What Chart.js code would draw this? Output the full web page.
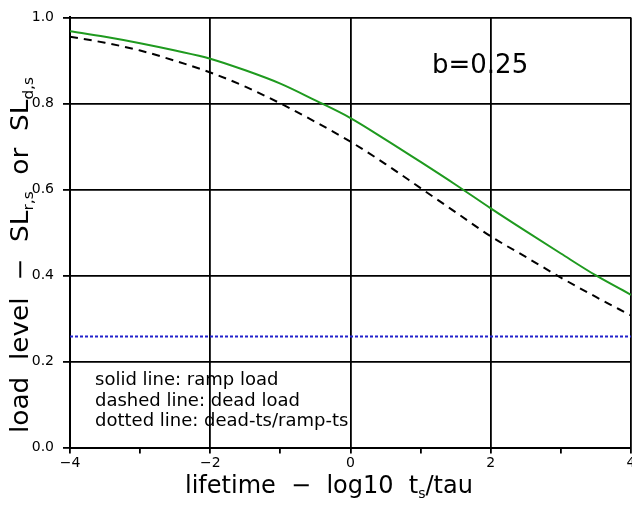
<!DOCTYPE html>
<html>
<head>
<meta charset="utf-8">
<script src="https://cdn.jsdelivr.net/npm/chart.js@4.4.0/dist/chart.umd.min.js"></script>
<style>
  html, body { margin: 0; padding: 0; background: #fff; }
  #wrap { width: 632px; height: 506px; }
</style>
</head>
<body>
<div id="wrap"><canvas id="chart" width="632" height="506"></canvas></div>
<script>
// --- data ---
const lifetime = [-4, -3.5, -3, -2.5, -2, -1.5, -1, -0.5, 0, 0.5, 1, 1.5, 2, 2.5, 3, 3.5, 4];
const rampLoad = [0.968, 0.955, 0.940, 0.923, 0.904, 0.877, 0.846, 0.807, 0.766, 0.716, 0.664, 0.611, 0.556, 0.503, 0.451, 0.400, 0.355];
const deadLoad = [0.955, 0.941, 0.923, 0.899, 0.872, 0.839, 0.800, 0.757, 0.711, 0.659, 0.603, 0.547, 0.491, 0.443, 0.395, 0.350, 0.307];
const ratioX     = [-4, 4];
const ratioLevel = [0.258, 0.258];
const bLabel     = 'b=0.25';
const notes      = ['solid line: ramp load', 'dashed line: dead load', 'dotted line: dead-ts/ramp-ts'];

const FONT = "'DejaVu Sans', sans-serif";

function pts(xs, ys) { return xs.map((x, i) => ({ x: x, y: ys[i] })); }

// width of a rich text run
function richWidth(ctx, parts, size) {
  let w = 0;
  parts.forEach(p => {
    ctx.font = (p.sub ? Math.round(size * 0.58) : size) + 'px ' + FONT;
    w += ctx.measureText(p.t).width;
  });
  return w;
}

// draws text with subscripts, starting at (x,y) baseline in current frame
function drawRich(ctx, parts, x, y, size) {
  let cx = x;
  parts.forEach(p => {
    const fs = p.sub ? Math.round(size * 0.58) : size;
    ctx.font = fs + 'px ' + FONT;
    ctx.fillText(p.t, cx, p.sub ? y + size * 0.22 : y);
    cx += ctx.measureText(p.t).width;
  });
}

const textPlugin = {
  id: 'textPlugin',
  afterDraw(chart) {
    const ctx = chart.ctx;
    ctx.save();
    ctx.fillStyle = '#000';
    ctx.textAlign = 'left';
    ctx.textBaseline = 'alphabetic';

    // x title
    drawRich(ctx, [{ t: 'lifetime  \u2212  log10  t' }, { t: 's', sub: true }, { t: '/tau' }], 185, 493, 24);

    // y title (rotated), stretched to the length it has in the original
    const yParts = [{ t: 'load  level  \u2212  SL' }, { t: 'r,s', sub: true }, { t: '  or  SL' }, { t: 'd,s', sub: true }];
    const yw = richWidth(ctx, yParts, 24);
    ctx.save();
    ctx.translate(28, 433);
    ctx.rotate(-Math.PI / 2);
    ctx.scale(356 / yw, 1);
    drawRich(ctx, yParts, 0, 0, 24);
    ctx.restore();

    // b label
    ctx.font = '26px ' + FONT;
    ctx.fillText(bLabel, 432, 73);

    // notes
    ctx.font = '18px ' + FONT;
    notes.forEach((s, i) => ctx.fillText(s, 95, 385 + i * 20.5));
    ctx.restore();
  }
};

new Chart(document.getElementById('chart'), {
  type: 'line',
  data: {
    datasets: [
      {
        label: 'ramp load',
        data: pts(lifetime, rampLoad),
        borderColor: '#1f9a1f',
        borderWidth: 2,
        pointRadius: 0,
        cubicInterpolationMode: 'monotone'
      },
      {
        label: 'dead load',
        data: pts(lifetime, deadLoad),
        borderColor: '#000',
        borderWidth: 2,
        borderDash: [8, 6],
        pointRadius: 0,
        cubicInterpolationMode: 'monotone'
      },
      {
        label: 'dead-ts/ramp-ts',
        data: pts(ratioX, ratioLevel),
        borderColor: '#2222cc',
        borderWidth: 2,
        borderDash: [3, 2],
        pointRadius: 0
      }
    ]
  },
  options: {
    responsive: false,
    animation: false,
    layout: { padding: { top: 11, right: 1, left: 0, bottom: 0 } },
    plugins: { legend: { display: false }, tooltip: { enabled: false }, title: { display: false } },
    scales: {
      x: {
        type: 'linear',
        min: -4, max: 4,
        afterFit: s => { s.height = 58.5; s.paddingLeft = 0; s.paddingRight = 0; },
        border: { display: true, color: '#000', width: 2 },
        grid: {
          color: c => (c.tick && c.tick.value % 2 === 0) ? '#000' : 'rgba(0,0,0,0)',
          lineWidth: 1.8,
          tickColor: '#000',
          tickWidth: 1.8,
          tickLength: 6
        },
        ticks: {
          stepSize: 1,
          autoSkip: false,
          maxRotation: 0,
          padding: 1,
          color: '#000',
          font: { family: FONT, size: 14 },
          callback: v => v % 2 === 0 ? (v < 0 ? '\u2212' + Math.abs(v) : '' + v) : ''
        }
      },
      y: {
        min: 0, max: 1,
        afterFit: s => { s.width = 70; },
        border: { display: true, color: '#000', width: 2 },
        grid: { color: '#000', lineWidth: 1.8, tickColor: '#000', tickLength: 7 },
        ticks: {
          stepSize: 0.2,
          padding: 9,
          color: '#000',
          font: { family: FONT, size: 14 },
          callback: v => v.toFixed(1)
        }
      }
    }
  },
  plugins: [textPlugin]
});
</script>
</body>
</html>
